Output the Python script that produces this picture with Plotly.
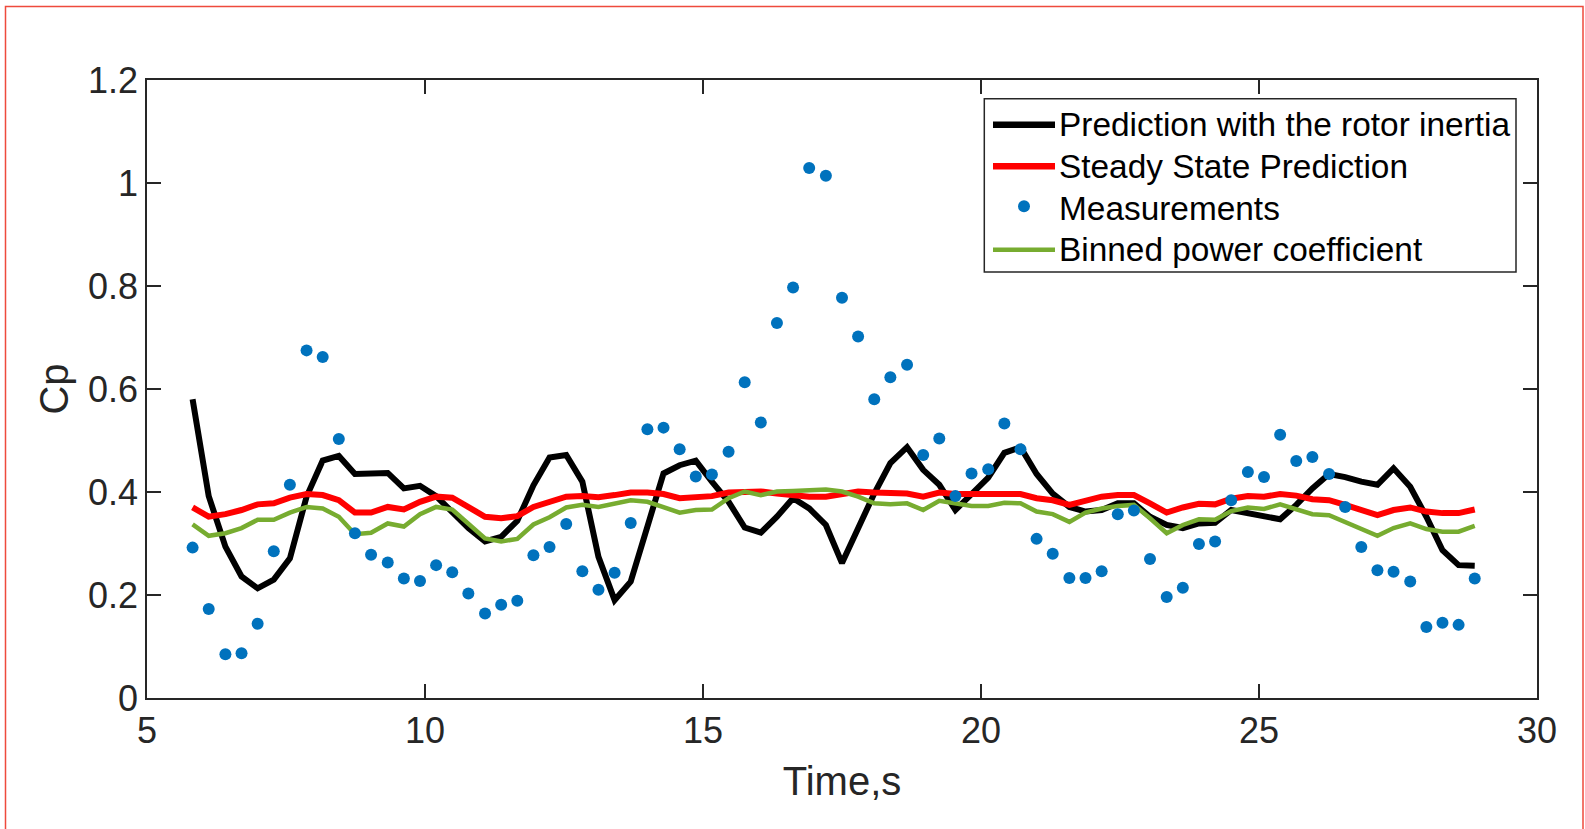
import plotly.graph_objects as go

time_s = [5.82, 6.11, 6.41, 6.70, 6.99, 7.28, 7.57, 7.87, 8.16, 8.45,
          8.74, 9.03, 9.33, 9.62, 9.91, 10.20, 10.49, 10.78, 11.08, 11.37,
          11.66, 11.95, 12.24, 12.54, 12.83, 13.12, 13.41, 13.70, 14.00, 14.29,
          14.58, 14.87, 15.16, 15.46, 15.75, 16.04, 16.33, 16.62, 16.91, 17.21,
          17.50, 17.79, 18.08, 18.37, 18.67, 18.96, 19.25, 19.54, 19.83, 20.13,
          20.42, 20.71, 21.00, 21.29, 21.59, 21.88, 22.17, 22.46, 22.75, 23.04,
          23.34, 23.63, 23.92, 24.21, 24.50, 24.80, 25.09, 25.38, 25.67, 25.96,
          26.26, 26.55, 26.84, 27.13, 27.42, 27.72, 28.01, 28.30, 28.59, 28.88]

cp_inertia = [0.580, 0.392, 0.294, 0.236, 0.213, 0.230, 0.271, 0.391, 0.461, 0.470,
              0.435, 0.435, 0.437, 0.407, 0.412, 0.392, 0.362, 0.330, 0.304, 0.313,
              0.344, 0.413, 0.467, 0.472, 0.420, 0.274, 0.190, 0.226, 0.333, 0.436,
              0.452, 0.461, 0.420, 0.381, 0.331, 0.321, 0.352, 0.388, 0.368, 0.336,
              0.262, 0.333, 0.397, 0.456, 0.487, 0.443, 0.414, 0.365, 0.397, 0.428,
              0.476, 0.487, 0.435, 0.397, 0.371, 0.362, 0.365, 0.378, 0.378, 0.352,
              0.336, 0.330, 0.339, 0.340, 0.365, 0.358, 0.352, 0.347, 0.375, 0.407,
              0.435, 0.429, 0.420, 0.414, 0.446, 0.410, 0.352, 0.287, 0.258, 0.257]

cp_steady = [0.370, 0.352, 0.357, 0.365, 0.376, 0.378, 0.389, 0.396, 0.394, 0.384,
             0.360, 0.360, 0.371, 0.366, 0.381, 0.391, 0.389, 0.370, 0.352, 0.349,
             0.353, 0.371, 0.381, 0.391, 0.392, 0.390, 0.394, 0.399, 0.399, 0.396,
             0.388, 0.391, 0.392, 0.399, 0.401, 0.401, 0.397, 0.394, 0.391, 0.391,
             0.396, 0.401, 0.399, 0.397, 0.397, 0.391, 0.399, 0.396, 0.396, 0.396,
             0.397, 0.396, 0.388, 0.384, 0.375, 0.384, 0.391, 0.394, 0.394, 0.378,
             0.360, 0.370, 0.377, 0.376, 0.387, 0.392, 0.391, 0.396, 0.393, 0.386,
             0.384, 0.375, 0.365, 0.355, 0.365, 0.370, 0.362, 0.359, 0.359, 0.366]

cp_measured = [0.292, 0.173, 0.085, 0.087, 0.144, 0.285, 0.414, 0.675, 0.662, 0.503,
               0.320, 0.278, 0.263, 0.232, 0.227, 0.258, 0.244, 0.203, 0.164, 0.181,
               0.189, 0.277, 0.293, 0.338, 0.246, 0.210, 0.243, 0.340, 0.522, 0.525,
               0.483, 0.430, 0.434, 0.478, 0.613, 0.535, 0.728, 0.797, 1.029, 1.014,
               0.777, 0.702, 0.580, 0.623, 0.647, 0.472, 0.504, 0.392, 0.436, 0.444,
               0.533, 0.483, 0.309, 0.280, 0.233, 0.233, 0.246, 0.357, 0.364, 0.270,
               0.196, 0.214, 0.299, 0.304, 0.384, 0.439, 0.429, 0.511, 0.460, 0.468,
               0.435, 0.371, 0.293, 0.248, 0.245, 0.226, 0.138, 0.146, 0.142, 0.232]

cp_binned = [0.337, 0.315, 0.320, 0.330, 0.346, 0.346, 0.360, 0.371, 0.368, 0.352,
             0.318, 0.321, 0.339, 0.333, 0.357, 0.371, 0.366, 0.339, 0.310, 0.304,
             0.309, 0.337, 0.351, 0.370, 0.375, 0.371, 0.378, 0.384, 0.381, 0.371,
             0.360, 0.365, 0.366, 0.388, 0.401, 0.394, 0.401, 0.402, 0.404, 0.405,
             0.401, 0.391, 0.378, 0.376, 0.378, 0.365, 0.383, 0.377, 0.373, 0.373,
             0.379, 0.378, 0.362, 0.357, 0.342, 0.360, 0.368, 0.373, 0.375, 0.349,
             0.320, 0.336, 0.347, 0.346, 0.363, 0.370, 0.367, 0.376, 0.366, 0.357,
             0.355, 0.342, 0.330, 0.315, 0.330, 0.339, 0.328, 0.323, 0.323, 0.334]

x_ticks = [5, 10, 15, 20, 25, 30]
y_ticks = [0, 0.2, 0.4, 0.6, 0.8, 1, 1.2]
y_tick_text = ["0", "0.2", "0.4", "0.6", "0.8", "1", "1.2"]

series_names = ["Prediction with the rotor inertia", "Steady State Prediction",
                "Measurements", "Binned power coefficient"]
series_colors = ["#000000", "#FF0000", "#0072BD", "#77AC30"]

W, H = 1585, 829
ML, MR, MT, MB = 147, 48, 80, 131
PW, PH = W - ML - MR, H - MT - MB


def px_to_paper_x(px):
    return (px - ML) / PW


def px_to_paper_y(py):
    return (H - MB - py) / PH


FONT = "Liberation Sans, Arial, sans-serif"
AX = "#262626"

fig = go.Figure()
fig.add_trace(go.Scatter(x=time_s, y=cp_inertia, mode="lines", name=series_names[0],
                         line=dict(color=series_colors[0], width=6)))
fig.add_trace(go.Scatter(x=time_s, y=cp_steady, mode="lines", name=series_names[1],
                         line=dict(color=series_colors[1], width=6)))
fig.add_trace(go.Scatter(x=time_s, y=cp_binned, mode="lines", name=series_names[3],
                         line=dict(color=series_colors[3], width=4.5)))
fig.add_trace(go.Scatter(x=time_s, y=cp_measured, mode="markers", name=series_names[2],
                         marker=dict(color=series_colors[2], size=12)))

axis_common = dict(showgrid=False, zeroline=False, showline=True, mirror="allticks",
                   linecolor=AX, linewidth=1.5, ticks="inside", ticklen=14,
                   tickwidth=1.5, tickcolor=AX,
                   tickfont=dict(family=FONT, size=36, color=AX))

fig.update_xaxes(range=[5, 30], tickvals=x_ticks, ticktext=[str(v) for v in x_ticks],
                 title=dict(text="Time,s", font=dict(family=FONT, size=40, color=AX),
                            standoff=17),
                 **axis_common)
fig.update_yaxes(range=[0, 1.2], tickvals=y_ticks, ticktext=y_tick_text,
                 title=dict(text="Cp", font=dict(family=FONT, size=40, color=AX),
                            standoff=7),
                 **axis_common)

# Legend box drawn by hand to match the MATLAB legend geometry
LX0, LX1, LY0, LY1 = 984.3, 1516, 98.7, 272
row_y = [124.7, 166.3, 208.0, 249.7]
shapes = [dict(type="rect", xref="paper", yref="paper",
               x0=px_to_paper_x(LX0), x1=px_to_paper_x(LX1),
               y0=px_to_paper_y(LY1), y1=px_to_paper_y(LY0),
               line=dict(color=AX, width=1.5), fillcolor="white", layer="above")]
annotations = []
for i, (name, col) in enumerate(zip(series_names, series_colors)):
    yc = row_y[i]
    if i == 2:
        r = 6
        ym = yc - 1.7
        shapes.append(dict(type="circle", xref="paper", yref="paper",
                           x0=px_to_paper_x(1024 - r), x1=px_to_paper_x(1024 + r),
                           y0=px_to_paper_y(ym + r), y1=px_to_paper_y(ym - r),
                           line=dict(width=0), fillcolor=col, layer="above"))
    else:
        shapes.append(dict(type="line", xref="paper", yref="paper",
                           x0=px_to_paper_x(993), x1=px_to_paper_x(1055),
                           y0=px_to_paper_y(yc), y1=px_to_paper_y(yc),
                           line=dict(color=col, width=6.5 if i < 2 else 4.5),
                           layer="above"))
    annotations.append(dict(text=name, xref="paper", yref="paper",
                            x=px_to_paper_x(1056.5), y=px_to_paper_y(yc),
                            xanchor="left", yanchor="middle", showarrow=False,
                            font=dict(family=FONT, size=33.4, color="#000000")))

# red frame around the whole figure
shapes.append(dict(type="rect", xref="paper", yref="paper",
                   x0=px_to_paper_x(5.5), x1=px_to_paper_x(1583),
                   y0=px_to_paper_y(840), y1=px_to_paper_y(6.5),
                   line=dict(color="#EE4A3C", width=1.5), fillcolor="rgba(0,0,0,0)",
                   layer="above"))

fig.update_layout(
    width=W, height=H, autosize=False,
    margin=dict(l=ML, r=MR, t=MT, b=MB),
    paper_bgcolor="white", plot_bgcolor="white",
    showlegend=False,
    shapes=shapes,
    annotations=annotations,
)

fig.write_html("out.html")
